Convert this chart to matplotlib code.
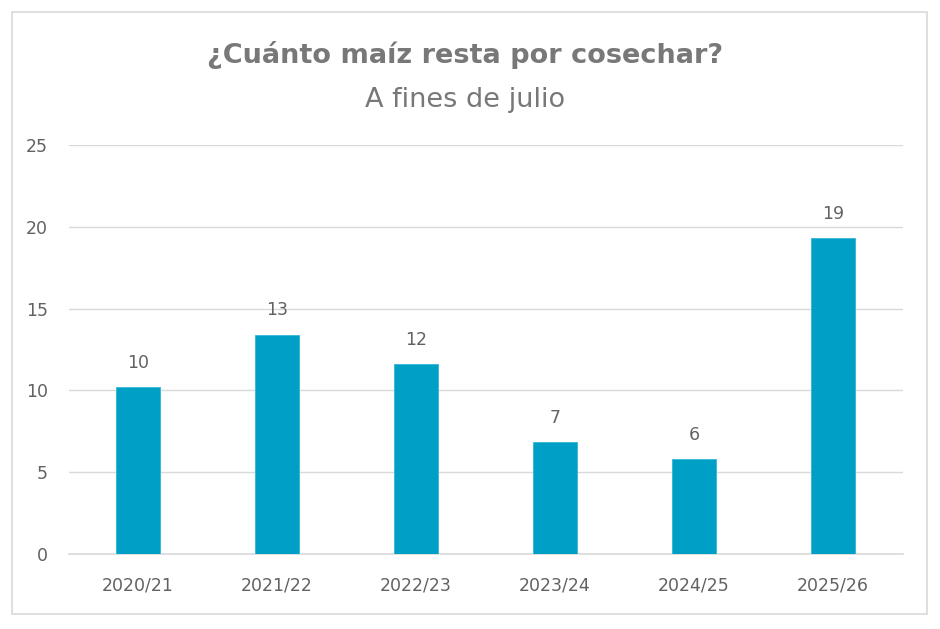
import matplotlib
matplotlib.use("Agg")
import matplotlib.pyplot as plt
from matplotlib.patches import Rectangle

campanas = ["2020/21", "2021/22", "2022/23", "2023/24", "2024/25", "2025/26"]
resta = [10.2, 13.4, 11.6, 6.85, 5.8, 19.3]
yticks = [0, 5, 10, 15, 20, 25]

plt.rcParams['font.family'] = ['DejaVu Sans']
gris = '#626262'

fig = plt.figure(figsize=(9.4, 6.29), dpi=100)
fig.patches.append(Rectangle((12/940, 1-614/629), (927-12)/940, (614-12)/629,
                             transform=fig.transFigure, fill=False,
                             edgecolor='#d9d9d9', linewidth=1.2))

ax = fig.add_axes([68.5/940, 1-554/629, 834/940, (554-145)/629])
x = range(len(campanas))
ax.bar(x, resta, width=0.31, color='#00a0c6', edgecolor='#2fb6d6', linewidth=0.6, zorder=3)
for i, v in zip(x, resta):
    ax.annotate(f'{round(v)}', (i, v), xytext=(0, 11), textcoords='offset points',
                ha='center', va='bottom', fontsize=12.5, color=gris)

ax.set_xlim(-0.5, len(campanas) - 0.5)
ax.set_ylim(0, 25)
ax.set_yticks(yticks)
ax.set_xticks(list(x))
ax.set_xticklabels(campanas)
ax.grid(axis='y', color='#d9d9d9', linewidth=1, zorder=0)
ax.axhline(0, color='#d9d9d9', linewidth=1.2, zorder=2, clip_on=False)
for s in ax.spines.values():
    s.set_visible(False)
ax.tick_params(length=0, labelsize=12.5, labelcolor=gris)
ax.tick_params(axis='y', pad=15)
ax.tick_params(axis='x', pad=16)

fig.text(465/940, 1-55/629, '¿Cuánto maíz resta por cosechar?', ha='center', va='center',
         fontsize=19.5, fontweight='bold', color='#787878')
fig.text(465/940, 1-100/629, 'A fines de julio', ha='center', va='center',
         fontsize=19.5, color='#787878')

fig.savefig('out.png', dpi=100)
